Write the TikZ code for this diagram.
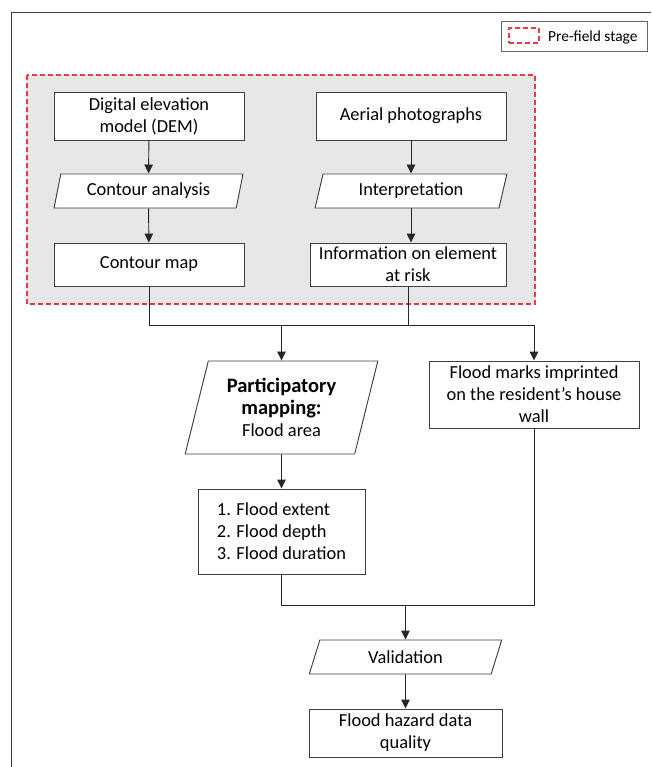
\documentclass[tikz,border=0pt]{standalone}
\usepackage{fontspec}
\setmainfont{Carlito}
\usetikzlibrary{shapes.geometric, arrows.meta, positioning}

\definecolor{stagered}{RGB}{240,56,66}
\definecolor{stagegray}{RGB}{231,231,231}
\definecolor{edgegray}{RGB}{64,64,64}

\tikzset{
  fbox/.style={rectangle, draw=edgegray, line width=0.95pt, fill=white, align=center, inner sep=2pt},
  fpara/.style={trapezium, trapezium stretches=true, trapezium left angle=76, trapezium right angle=104,
    draw=edgegray, line width=0.95pt, fill=white, align=center, inner sep=2pt},
  fline/.style={draw=black!85, line width=0.95pt},
  farrow/.style={fline, -{Triangle[length=9pt,width=8.5pt]}},
  stagedash/.style={draw=stagered, line width=1.4pt, dash pattern=on 5pt off 3pt},
}

\begin{document}
\begin{tikzpicture}[x=1pt, y=-1pt, font=\fontsize{18.4}{22}\selectfont, line join=miter]
\useasboundingbox (0,0) rectangle (651,767);

% frame and legend
\draw[black!75, line width=1.5pt] (11.5,767) -- (11.5,12.5) -- (651,12.5);
\node[rectangle, draw=black!60, line width=1pt, minimum width=146pt, minimum height=30pt] (legend) at (574,37) {};
\node[rectangle, stagedash, minimum width=30pt, minimum height=15pt] (legkey) at (524,35.5) {};
\node[anchor=west, font=\fontsize{15.4}{18}\selectfont, inner sep=0pt] (legtext) at (548,37) {Pre-field stage};

% pre-field stage
\fill[stagegray] (27,75) rectangle (535,304);
\draw[stagedash] (27,75) rectangle (535,304);

\node[fbox, minimum width=190pt, minimum height=48pt] (dem) at (149,116) {Digital elevation\\model (DEM)};
\node[fpara, minimum width=189pt, minimum height=34pt] (cana) at (148.5,191) {Contour analysis};
\node[fbox, minimum width=190pt, minimum height=43pt] (cmap) at (149,264.5) {Contour map};

\node[fbox, minimum width=190pt, minimum height=48pt] (aerial) at (411,116) {Aerial photographs};
\node[fpara, minimum width=192pt, minimum height=34pt] (interp) at (411,191) {Interpretation};
\node[fbox, minimum width=196pt, minimum height=43pt] (info) at (408,264.5) {Information on element\\at risk};

% field stage
\node[fpara, trapezium left angle=74, trapezium right angle=106, minimum width=193pt, minimum height=93pt] (partic) at (281.5,407.5)
  {{\fontsize{20.5}{24}\selectfont\bfseries Participatory}\\{\fontsize{20.5}{24}\selectfont\bfseries mapping:}\\Flood area};
\node[fbox, minimum width=210pt, minimum height=67pt] (marks) at (534,394.5) {Flood marks imprinted\\on the resident’s house\\wall};
\node[fbox, align=left, minimum width=167pt, minimum height=85pt] (extent) at (281.5,531.5) {1. Flood extent\\2. Flood depth\\3. Flood duration};

\node[fpara, trapezium left angle=74, trapezium right angle=106, minimum width=193pt, minimum height=34pt] (valid) at (405.5,657) {Validation};
\node[fbox, minimum width=193pt, minimum height=48pt] (hazard) at (405.5,733) {Flood hazard data\\quality};

% connectors
\draw[farrow] (dem) -- (cana);
\draw[farrow] (cana) -- (cmap);
\draw[farrow] (aerial) -- (interp);
\draw[farrow] (interp.south) -- (interp.south |- info.north);

\coordinate (bus) at (0,325);
\draw[fline] (cmap.south) |- (marks.north |- bus);
\draw[fline] (info.south) -- (info.south |- bus);
\draw[farrow] (partic.north |- bus) -- (partic.north);
\draw[farrow] (marks.north |- bus) -- (marks.north);

\draw[farrow] (partic) -- (extent);

\coordinate (merge) at (0,605);
\draw[fline] (extent.south) |- (marks.south |- merge) -- (marks.south);
\draw[farrow] (valid.north |- merge) -- (valid.north);
\draw[farrow] (valid) -- (hazard);

\end{tikzpicture}
\end{document}
